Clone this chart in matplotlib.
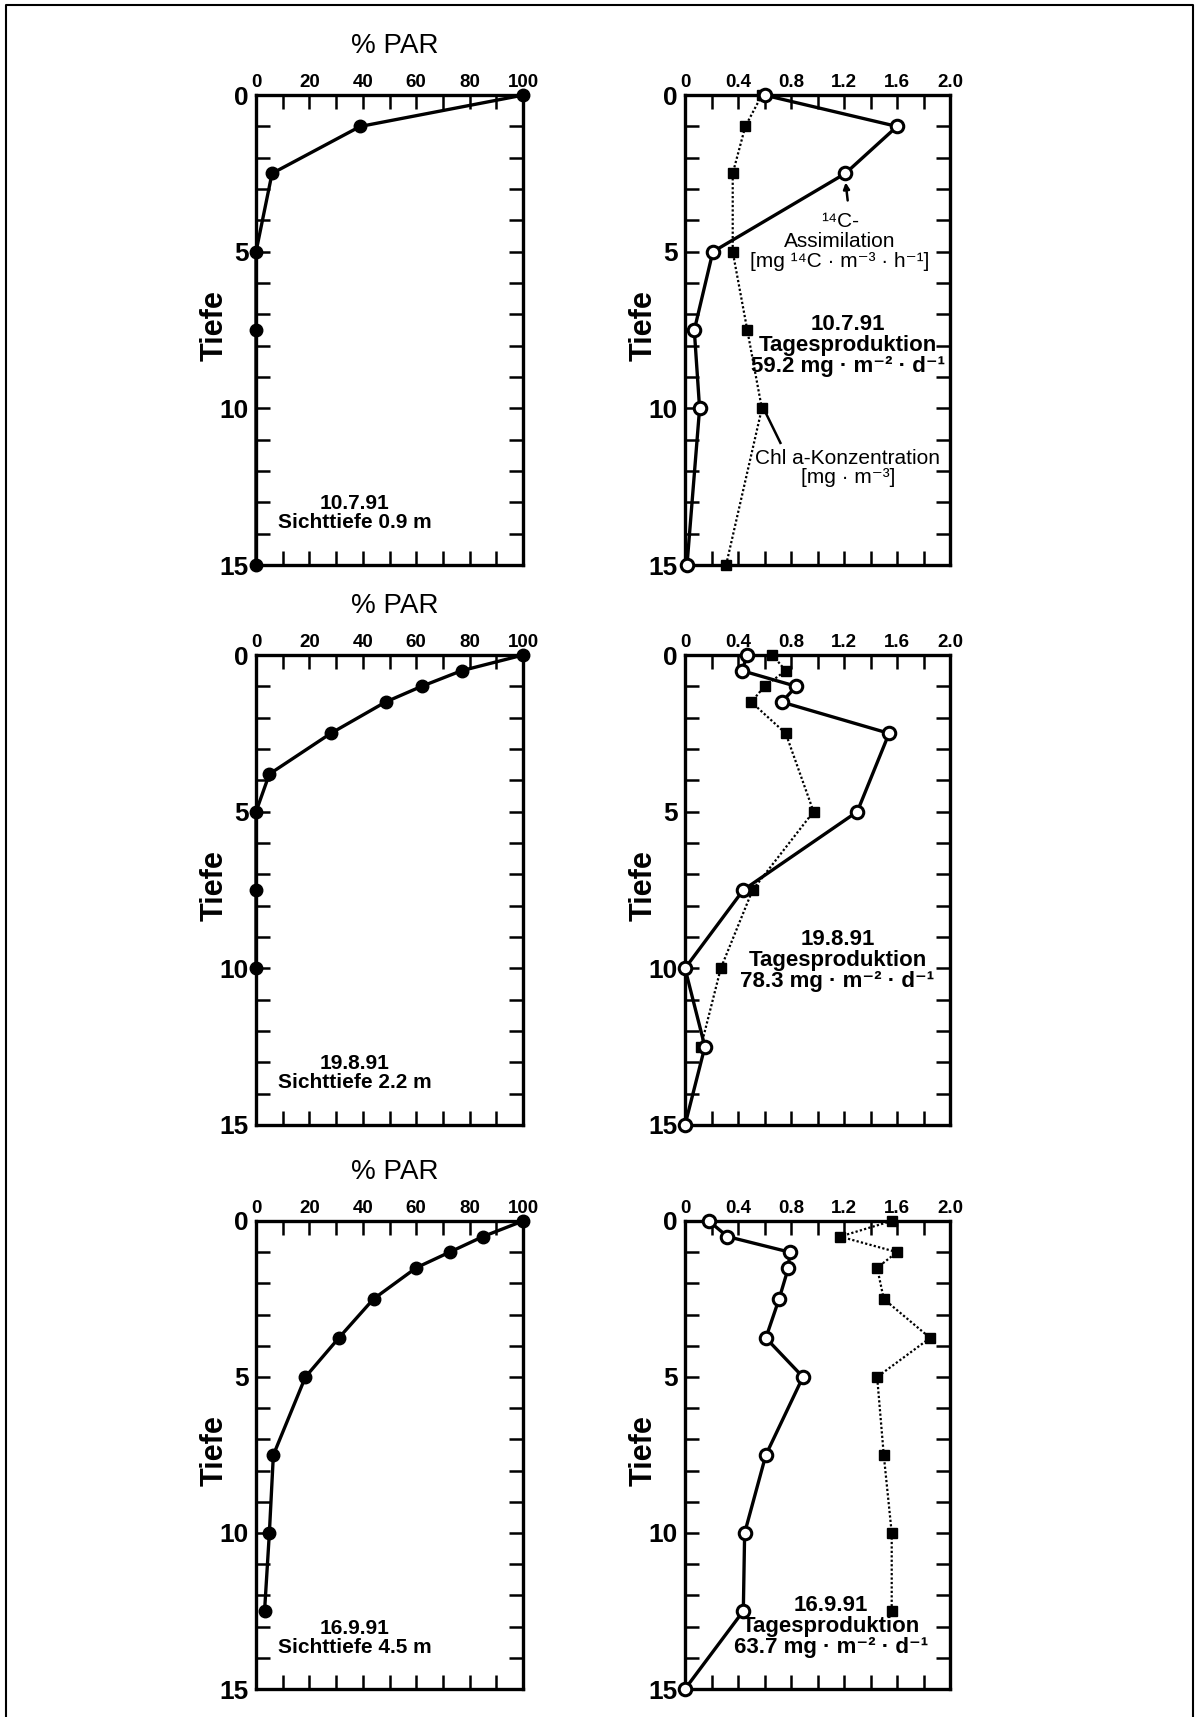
import matplotlib
matplotlib.use("Agg")
import matplotlib.pyplot as plt
from matplotlib.ticker import MultipleLocator, FuncFormatter

plt.rcParams['font.family'] = ['Liberation Sans', 'DejaVu Sans']

# --- % PAR profiles (left column) ---
par_depth_1 = [0, 1, 2.5, 5, 7.5, 15]
par_1 = [100, 39, 6, 0, 0, 0]

par_depth_2 = [0, 0.5, 1, 1.5, 2.5, 3.8, 5, 7.5, 10]
par_2 = [100, 77, 62, 48.5, 28, 5, 0, 0, 0]

par_depth_3 = [0, 0.5, 1, 1.5, 2.5, 3.75, 5, 7.5, 10, 12.5]
par_3 = [100, 85, 72.5, 60, 44, 31, 18.5, 6.5, 5, 3.2]

# --- 14C assimilation (open circles) and Chl a (squares), right column ---
assim_depth_1 = [0, 1, 2.5, 5, 7.5, 10, 15]
assim_1 = [0.6, 1.6, 1.21, 0.21, 0.07, 0.11, 0.015]
chl_depth_1 = [0, 1, 2.5, 5, 7.5, 10, 15]
chl_1 = [0.58, 0.455, 0.36, 0.36, 0.47, 0.58, 0.31]

assim_depth_2 = [0, 0.5, 1, 1.5, 2.5, 5, 7.5, 10, 12.5, 15]
assim_2 = [0.47, 0.43, 0.84, 0.73, 1.54, 1.3, 0.44, 0.0, 0.15, 0.0]
chl_depth_2 = [0, 0.5, 1, 1.5, 2.5, 5, 7.5, 10, 12.5]
chl_2 = [0.66, 0.76, 0.6, 0.5, 0.76, 0.97, 0.51, 0.27, 0.12]

assim_depth_3 = [0, 0.5, 1, 1.5, 2.5, 3.75, 5, 7.5, 10, 12.5, 15]
assim_3 = [0.18, 0.32, 0.79, 0.78, 0.71, 0.61, 0.89, 0.61, 0.45, 0.44, 0.0]
chl_depth_3 = [0, 0.5, 1, 1.5, 2.5, 3.75, 5, 7.5, 10, 12.5]
chl_3 = [1.56, 1.17, 1.6, 1.45, 1.5, 1.85, 1.45, 1.5, 1.56, 1.56]

dates = ["10.7.91", "19.8.91", "16.9.91"]
secchi = ["0.9", "2.2", "4.5"]
daily_prod = ["59.2", "78.3", "63.7"]

fig = plt.figure(figsize=(11.98, 17.17), dpi=100)

# outer frame
fig.add_artist(plt.Line2D([0.005, 0.005, 0.996, 0.996], [0.0, 0.997, 0.997, 0.0],
                          transform=fig.transFigure, color='black', lw=1.5))

left_x, left_w = 0.2137, 0.2229
right_x, right_w = 0.5718, 0.2212
rows = [(0.6709, 0.2737), (0.3448, 0.2737), (0.0163, 0.2726)]


def fmt_right(v, pos):
    return "0" if abs(v) < 1e-9 else f"{v:.1f}"


def style_axis(ax, xmax, major, minor):
    ax.set_xlim(0, xmax)
    ax.set_ylim(15, 0)
    ax.xaxis.set_major_locator(MultipleLocator(major))
    ax.xaxis.set_minor_locator(MultipleLocator(minor))
    ax.yaxis.set_major_locator(MultipleLocator(5))
    ax.yaxis.set_minor_locator(MultipleLocator(1))
    ax.xaxis.tick_top()
    ax.tick_params(which='both', direction='in', top=True, bottom=True, left=True, right=True,
                   labeltop=True, labelbottom=False, width=1.8, length=10, color='black')
    ax.tick_params(axis='y', labelsize=19, pad=5)
    ax.tick_params(axis='x', labelsize=13.5, pad=3)
    for sp in ax.spines.values():
        sp.set_linewidth(2.4)
    ax.set_ylabel("Tiefe", fontsize=22, fontweight='bold')
    ax.yaxis.set_label_coords(-0.155, 0.51)
    ax.yaxis.label.set_verticalalignment('center')


def bold_ticks(ax):
    for lab in ax.get_xticklabels() + ax.get_yticklabels():
        lab.set_fontweight('bold')


par_sets = [(par_1, par_depth_1), (par_2, par_depth_2), (par_3, par_depth_3)]
prod_sets = [(assim_1, assim_depth_1, chl_1, chl_depth_1),
             (assim_2, assim_depth_2, chl_2, chl_depth_2),
             (assim_3, assim_depth_3, chl_3, chl_depth_3)]

prod_pos = [(1.23, 8.0), (1.15, 9.76), (1.10, 13.0)]

for i, (y0, h) in enumerate(rows):
    # left: % PAR
    ax = fig.add_axes([left_x, y0, left_w, h])
    style_axis(ax, 100, 20, 10)
    bold_ticks(ax)
    par, dep = par_sets[i]
    ax.plot(par, dep, color='black', lw=2.4, marker='o', markersize=9,
            markerfacecolor='black', clip_on=False, zorder=5)
    ax.text(0.52, 1.104, "% PAR", transform=ax.transAxes, ha='center', va='center',
            fontsize=20)
    ax.text(37, 13.35, f"{dates[i]}\nSichttiefe {secchi[i]} m", ha='center', va='center',
            fontsize=15, fontweight='bold', linespacing=1.0)

    # right: assimilation and chlorophyll
    ax2 = fig.add_axes([right_x, y0, right_w, h])
    style_axis(ax2, 2.0, 0.4, 0.2)
    ax2.xaxis.set_major_formatter(FuncFormatter(fmt_right))
    bold_ticks(ax2)
    assim, adep, chl, cdep = prod_sets[i]
    ax2.plot(chl, cdep, color='black', lw=1.6, linestyle=(0, (1, 1)), marker='s',
             markersize=7.5, markerfacecolor='black', clip_on=False, zorder=4)
    ax2.plot(assim, adep, color='black', lw=2.4, marker='o', markersize=9,
             markerfacecolor='white', markeredgewidth=2.2, clip_on=False, zorder=5)
    px, py = prod_pos[i]
    ax2.text(px, py, f"{dates[i]}\nTagesproduktion\n{daily_prod[i]} mg · m⁻² · d⁻¹",
             ha='center', va='center', fontsize=16, fontweight='bold', linespacing=1.0)

    if i == 0:
        ax2.text(1.17, 4.68, "¹⁴C-\nAssimilation\n[mg ¹⁴C · m⁻³ · h⁻¹]", ha='center',
                 va='center', fontsize=15, linespacing=1.05)
        ax2.annotate("", xy=(assim[2], adep[2] + 0.2), xytext=(1.23, 3.45),
                     arrowprops=dict(arrowstyle='-|>', color='black', lw=1.8,
                                     mutation_scale=9))
        ax2.text(1.23, 11.9, "Chl a-Konzentration\n[mg · m⁻³]", ha='center', va='center',
                 fontsize=15, linespacing=1.05)
        ax2.plot([chl[5] + 0.03, 0.72], [cdep[5] + 0.15, 11.1], color='black', lw=1.8)

fig.savefig("out.png", dpi=100)
